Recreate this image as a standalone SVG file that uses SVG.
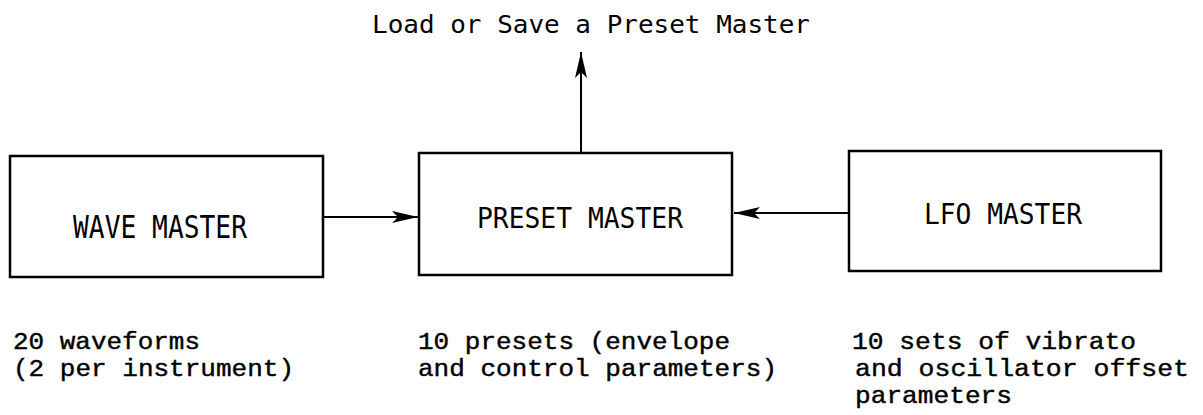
<svg xmlns="http://www.w3.org/2000/svg" width="1203" height="415" viewBox="0 0 1203 415">
<style>
.box{fill:#fff;stroke:#000;stroke-width:2.5}
.lbl{font-family:"DejaVu Sans Mono","Liberation Mono",monospace;font-size:26px;fill:#000}
.top{font-family:"DejaVu Sans Mono","Liberation Mono",monospace;font-size:25px;fill:#000}
.note{font-family:"Liberation Mono","DejaVu Sans Mono",monospace;font-size:23px;fill:#000;stroke:#000;stroke-width:0.4}
.conn{stroke:#000;stroke-width:2;fill:none}
</style>
<defs>
<marker id="ah" viewBox="0 0 26 12" refX="26" refY="6" markerWidth="26" markerHeight="12" markerUnits="userSpaceOnUse" orient="auto">
<path d="M0,0 L26,6 L0,12 L6,6 Z" fill="#000"/>
</marker>
</defs>
<g id="connectors">
<line class="conn" x1="323" y1="217" x2="418" y2="217" marker-end="url(#ah)"/>
<line class="conn" x1="849" y1="213" x2="734" y2="213" marker-end="url(#ah)"/>
<line class="conn" x1="581" y1="153" x2="581" y2="52" marker-end="url(#ah)"/>
</g>
<g id="wave-master">
<rect class="box" x="10" y="156" width="313" height="121"/>
<text class="lbl" x="73" y="230" textLength="174" transform="translate(0,-38.3) scale(1,1.2)" lengthAdjust="spacingAndGlyphs">WAVE MASTER</text>
</g>
<g id="preset-master">
<rect class="box" x="419" y="153" width="313" height="122"/>
<text class="lbl" x="477" y="228" textLength="206" transform="translate(0,-22.8) scale(1,1.1)" lengthAdjust="spacingAndGlyphs">PRESET MASTER</text>
</g>
<g id="lfo-master">
<rect class="box" x="849" y="151" width="312" height="120"/>
<text class="lbl" x="924" y="224" textLength="158" transform="translate(0,-22.4) scale(1,1.1)" lengthAdjust="spacingAndGlyphs">LFO MASTER</text>
</g>
<g id="top-label">
<text class="top" x="372" y="33" textLength="438" lengthAdjust="spacingAndGlyphs">Load or Save a Preset Master</text>
</g>
<g id="notes">
<text class="note" x="13" y="349" lengthAdjust="spacingAndGlyphs"><tspan x="13" textLength="187" lengthAdjust="spacingAndGlyphs">20 waveforms</tspan><tspan x="13" dy="27" textLength="281" lengthAdjust="spacingAndGlyphs">(2 per instrument)</tspan></text>
<text class="note" x="418" y="349"><tspan x="418" textLength="312" lengthAdjust="spacingAndGlyphs">10 presets (envelope</tspan><tspan x="418" dy="27" textLength="359" lengthAdjust="spacingAndGlyphs">and control parameters)</tspan></text>
<text class="note" x="852" y="349"><tspan x="852" textLength="284" lengthAdjust="spacingAndGlyphs">10 sets of vibrato</tspan><tspan x="855" dy="27" textLength="334" lengthAdjust="spacingAndGlyphs">and oscillator offset</tspan><tspan x="855" dy="27" textLength="157" lengthAdjust="spacingAndGlyphs">parameters</tspan></text>
</g>
</svg>
